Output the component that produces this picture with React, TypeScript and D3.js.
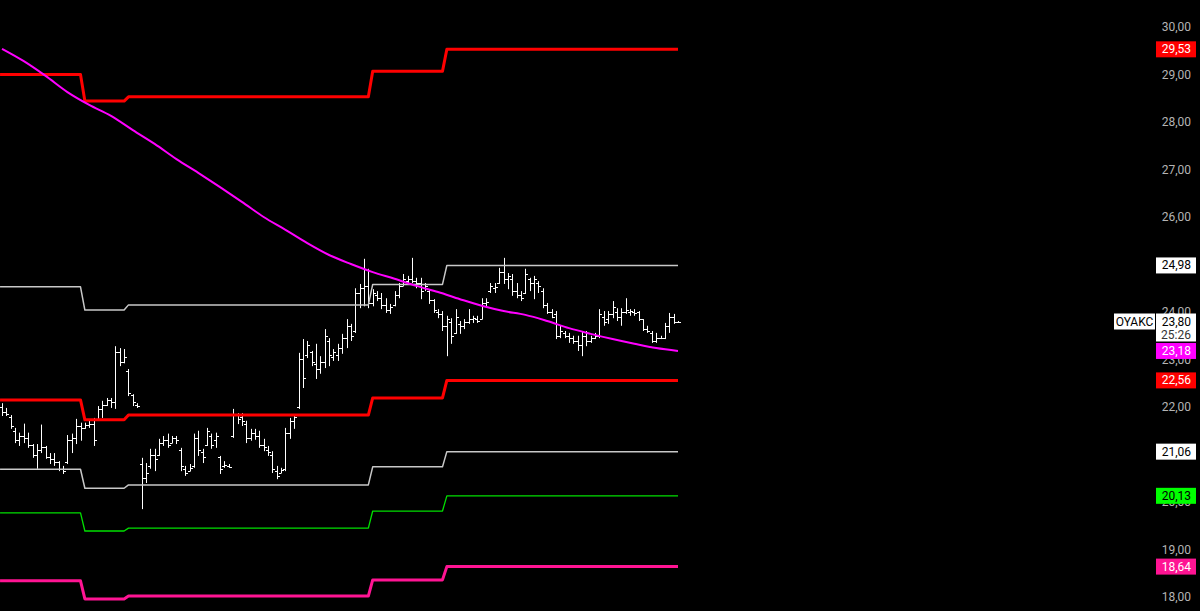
import React from "react";
import * as d3 from "d3";

// [open, high, low, close]
const ohlcBars: [number, number, number, number][] = [
  [22.00, 22.08, 21.81, 21.90], [21.90, 21.98, 21.81, 21.85], [21.80, 21.83, 21.54, 21.60], [21.50, 21.56, 21.24, 21.30],
  [21.30, 21.46, 21.18, 21.40], [21.40, 21.65, 21.24, 21.35], [21.35, 21.46, 21.14, 21.20], [21.20, 21.22, 20.93, 21.00],
  [21.00, 21.22, 20.70, 21.10], [21.10, 21.63, 21.03, 21.15], [21.15, 21.18, 20.91, 20.95], [20.95, 21.03, 20.80, 20.90],
  [20.90, 21.03, 20.76, 20.85], [20.85, 20.86, 20.65, 20.70], [20.70, 20.76, 20.59, 20.65], [20.85, 21.41, 20.80, 21.30],
  [21.30, 21.44, 21.03, 21.35], [21.35, 21.75, 21.22, 21.60], [21.60, 21.67, 21.29, 21.55], [21.55, 21.67, 21.54, 21.62],
  [21.62, 21.71, 21.56, 21.65], [21.65, 21.77, 21.18, 21.30], [21.75, 22.02, 21.71, 21.95], [21.95, 22.13, 21.77, 22.05],
  [22.05, 22.19, 22.02, 22.15], [22.15, 22.19, 21.98, 22.10], [22.10, 23.28, 21.96, 23.15], [23.15, 23.24, 22.86, 22.95],
  [22.95, 23.22, 22.92, 23.05], [22.75, 22.80, 22.23, 22.30], [22.25, 22.27, 22.02, 22.10], [22.05, 22.08, 21.98, 22.02],
  [20.80, 20.93, 19.85, 20.50], [20.50, 20.82, 20.40, 20.60], [20.75, 21.12, 20.70, 21.00], [21.00, 21.12, 20.65, 20.90],
  [21.00, 21.33, 20.97, 21.25], [21.25, 21.39, 21.18, 21.30], [21.30, 21.44, 21.14, 21.20], [21.25, 21.39, 21.24, 21.35],
  [21.35, 21.39, 21.22, 21.30], [21.10, 21.14, 20.65, 20.75], [20.70, 20.76, 20.55, 20.60], [20.66, 20.80, 20.65, 20.72],
  [20.75, 21.44, 20.72, 21.35], [21.35, 21.50, 20.97, 21.10], [21.05, 21.12, 20.82, 20.95], [21.20, 21.56, 21.18, 21.50],
  [21.40, 21.44, 21.12, 21.20], [21.30, 21.46, 21.14, 21.40], [20.95, 20.97, 20.59, 20.70], [20.75, 20.86, 20.72, 20.78],
  [20.76, 20.80, 20.72, 20.74], [21.40, 21.96, 21.35, 21.85], [21.85, 21.87, 21.64, 21.75], [21.80, 21.87, 21.60, 21.70],
  [21.65, 21.71, 21.24, 21.35], [21.35, 21.54, 21.29, 21.45], [21.45, 21.54, 21.31, 21.40], [21.40, 21.50, 21.14, 21.20],
  [21.20, 21.33, 21.07, 21.15], [21.10, 21.18, 20.97, 21.05], [21.00, 21.07, 20.61, 20.70], [20.65, 20.76, 20.48, 20.55],
  [20.62, 20.72, 20.61, 20.68], [20.70, 21.56, 20.65, 21.45], [21.45, 21.77, 21.33, 21.70], [21.70, 21.85, 21.54, 21.80],
  [22.00, 23.14, 21.96, 23.00], [23.00, 23.43, 22.40, 22.60], [23.10, 23.39, 23.03, 23.30], [23.15, 23.18, 22.86, 22.95],
  [22.90, 23.33, 22.59, 22.80], [22.80, 23.07, 22.70, 22.95], [22.95, 23.64, 22.82, 23.50], [23.40, 23.45, 22.86, 23.10],
  [23.05, 23.22, 22.97, 23.15], [23.10, 23.33, 22.97, 23.25], [23.25, 23.54, 23.12, 23.45], [23.45, 23.85, 23.24, 23.70],
  [23.70, 23.75, 23.39, 23.50], [23.60, 24.50, 23.56, 24.40], [24.40, 24.59, 24.08, 24.50], [24.50, 25.12, 24.12, 24.55],
  [24.55, 24.91, 24.08, 24.20], [24.20, 24.48, 24.12, 24.40], [24.35, 24.44, 24.23, 24.30], [24.30, 24.40, 24.06, 24.15],
  [24.15, 24.29, 23.98, 24.05], [24.05, 24.17, 23.96, 24.10], [24.15, 24.44, 24.12, 24.35], [24.35, 24.61, 24.29, 24.55],
  [24.55, 24.80, 24.55, 24.70], [24.65, 24.76, 24.59, 24.70], [24.70, 25.14, 24.61, 24.65], [24.65, 24.72, 24.50, 24.60],
  [24.60, 24.72, 24.27, 24.45], [24.50, 24.61, 24.44, 24.55], [24.45, 24.48, 24.17, 24.25], [24.25, 24.27, 23.98, 24.05],
  [24.00, 24.06, 23.87, 23.95], [23.95, 24.02, 23.60, 23.70], [23.70, 23.92, 23.07, 23.85], [23.80, 23.87, 23.33, 23.50],
  [23.55, 24.06, 23.54, 23.90], [23.75, 23.81, 23.54, 23.70], [23.70, 23.85, 23.64, 23.80], [23.80, 24.06, 23.75, 23.85],
  [23.85, 23.92, 23.77, 23.88], [23.85, 23.92, 23.77, 23.82], [23.85, 24.29, 23.85, 24.20], [24.20, 24.29, 24.12, 24.22],
  [24.45, 24.61, 24.40, 24.55], [24.50, 24.61, 24.40, 24.52], [24.60, 24.93, 24.59, 24.85], [24.85, 25.14, 24.59, 24.70],
  [24.70, 24.82, 24.48, 24.75], [24.70, 24.80, 24.34, 24.45], [24.45, 24.61, 24.29, 24.35], [24.35, 24.44, 24.23, 24.30],
  [24.40, 24.91, 24.38, 24.80], [24.70, 24.72, 24.44, 24.60], [24.60, 24.76, 24.27, 24.70], [24.60, 24.65, 24.40, 24.55],
  [24.45, 24.50, 24.08, 24.15], [24.15, 24.19, 23.96, 24.00], [24.00, 24.06, 23.87, 23.90], [23.95, 24.02, 23.43, 23.50],
  [23.50, 23.71, 23.45, 23.60], [23.55, 23.60, 23.45, 23.50], [23.50, 23.56, 23.35, 23.45], [23.45, 23.50, 23.33, 23.40],
  [23.40, 23.50, 23.18, 23.30], [23.30, 23.60, 23.07, 23.50], [23.50, 23.60, 23.28, 23.40], [23.40, 23.50, 23.35, 23.45],
  [23.45, 23.56, 23.43, 23.50], [23.50, 24.06, 23.45, 23.95], [23.90, 24.02, 23.71, 23.80], [23.85, 24.02, 23.75, 23.95],
  [23.95, 24.23, 23.87, 24.10], [24.00, 24.08, 23.81, 23.90], [23.90, 24.08, 23.71, 24.00], [24.00, 24.29, 23.96, 24.05],
  [24.00, 24.06, 23.92, 24.02], [24.00, 24.06, 23.92, 23.98], [24.00, 24.02, 23.81, 23.85], [23.85, 23.85, 23.60, 23.65],
  [23.65, 23.71, 23.56, 23.60], [23.55, 23.60, 23.35, 23.40], [23.40, 23.56, 23.35, 23.45], [23.45, 23.50, 23.43, 23.46],
  [23.45, 23.77, 23.43, 23.70], [23.70, 23.98, 23.56, 23.90], [23.90, 23.96, 23.75, 23.80], [23.80, 23.81, 23.77, 23.80],
];

// Moving average knots (bar index, value)
const maIndex = [0, 5, 10, 15, 20, 25, 30, 35, 40, 45, 50, 55, 60, 65, 70, 75, 80, 85, 90, 95, 100, 105, 110, 115, 120, 125, 130, 135, 140, 145, 150, 155];
const maValues = [29.54, 29.28, 28.97, 28.63, 28.36, 28.13, 27.83, 27.54, 27.22, 26.93, 26.63, 26.32, 26.0, 25.73, 25.45, 25.2, 25.01, 24.84, 24.7, 24.55, 24.42, 24.27, 24.13, 24.02, 23.94, 23.81, 23.66, 23.54, 23.43, 23.33, 23.24, 23.18];

// Step band segments: [startIdx, endIdx] pairs, and each band's value per segment
const bandBreaks = [-0.45, 18, 19, 28, 29, 84, 85, 101, 102, 155];
const redUpper = [29.0, 28.44, 28.53, 29.07, 29.53];
const whiteUpper = [24.53, 24.04, 24.15, 24.58, 24.98];
const redLower = [22.15, 21.73, 21.83, 22.19, 22.56];
const whiteLower = [20.69, 20.29, 20.36, 20.74, 21.06];
const greenLower = [19.77, 19.39, 19.45, 19.81, 20.13];
const pinkLower = [18.34, 17.96, 18.02, 18.36, 18.64];

// 21,00 and 25,00 sit fully beneath value labels in the reference
const axisTicks = [18, 19, 20, 22, 23, 24, 26, 27, 28, 29, 30];
const lastPrice = 23.8;
const symbolName = "OYAKC";
const countdown = "25:26";
const maLast = 23.18;

const fmt = (v: number) => d3.format(".2f")(v).replace(".", ",");

export default function App() {
  const W = 1200, H = 611;
  const x = d3.scaleLinear().domain([0, ohlcBars.length - 1]).range([2, 678]);
  const y = d3.scaleLinear().domain([30, 18]).range([27, 597]);

  const bandPoints = (vals: number[]) => {
    const pts: [number, number][] = [];
    vals.forEach((v, i) => {
      pts.push([bandBreaks[2 * i], v]);
      pts.push([bandBreaks[2 * i + 1], v]);
    });
    return pts;
  };
  const line = d3.line<[number, number]>().x((d) => x(d[0])).y((d) => y(d[1]));
  const maLine = d3
    .line<number>()
    .x((_, i) => x(maIndex[i]))
    .y((d) => y(d))
    .curve(d3.curveMonotoneX);

  const bands = [
    { vals: redUpper, color: "#ff0000", w: 3 },
    { vals: whiteUpper, color: "#c8c8c8", w: 1.5 },
    { vals: redLower, color: "#ff0000", w: 3 },
    { vals: whiteLower, color: "#c8c8c8", w: 1.5 },
    { vals: greenLower, color: "#00e000", w: 1.3 },
    { vals: pinkLower, color: "#ff1493", w: 3 },
  ];

  const labels = [
    { v: redUpper[4], bg: "#ff0000", fg: "#ffffff" },
    { v: whiteUpper[4], bg: "#ffffff", fg: "#000000" },
    { v: maLast, bg: "#ff00ff", fg: "#ffffff" },
    { v: redLower[4], bg: "#ff0000", fg: "#ffffff" },
    { v: whiteLower[4], bg: "#ffffff", fg: "#000000" },
    { v: greenLower[4], bg: "#00ff00", fg: "#000000" },
    { v: pinkLower[4], bg: "#ff1493", fg: "#ffffff" },
  ];

  const font = "Roboto, 'Noto Sans', sans-serif";
  const lx = 1156, lw = 40, lh = 16, tx = 1191;
  const py = y(lastPrice);

  return (
    <svg
      width={W}
      height={H}
      style={{ position: "fixed", left: 0, top: 0, background: "#000" }}
    >
      <rect x={0} y={0} width={W} height={H} fill="#000" />
      {/* bars */}
      <g stroke="#ffffff" strokeWidth={1}>
        {ohlcBars.map((b, i) => {
          const cx = Math.round(x(i)) + 0.5;
          return (
            <g key={i}>
              <line x1={cx} x2={cx} y1={y(b[1])} y2={y(b[2])} />
              <line x1={cx - 2.5} x2={cx} y1={Math.round(y(b[0])) + 0.5} y2={Math.round(y(b[0])) + 0.5} />
              <line x1={cx} x2={cx + 2.5} y1={Math.round(y(b[3])) + 0.5} y2={Math.round(y(b[3])) + 0.5} />
            </g>
          );
        })}
      </g>
      {/* bands */}
      {bands.map((b, i) => (
        <path key={i} d={line(bandPoints(b.vals)) || ""} fill="none" stroke={b.color} strokeWidth={b.w} strokeLinejoin="round" />
      ))}
      {/* moving average */}
      <path d={maLine(maValues) || ""} fill="none" stroke="#ff00ff" strokeWidth={2} />

      {/* axis tick labels */}
      <g fontFamily={font} fontSize={12} fill="#b4b4b4" textAnchor="end">
        {axisTicks.map((t) => (
          <text key={t} x={tx} y={y(t)} dominantBaseline="central">
            {fmt(t)}
          </text>
        ))}
      </g>

      {/* band value labels */}
      <g fontFamily={font} fontSize={12} textAnchor="end">
        {labels.map((l, i) => (
          <g key={i}>
            <rect x={lx} y={y(l.v) - lh / 2} width={lw} height={lh} fill={l.bg} />
            <text x={tx} y={y(l.v)} dominantBaseline="central" fill={l.fg}>
              {fmt(l.v)}
            </text>
          </g>
        ))}
        {/* last price label */}
        <rect x={1114} y={py - 8} width={41} height={16} fill="#ffffff" />
        <text x={1134.5} y={py} dominantBaseline="central" textAnchor="middle" fill="#000">
          {symbolName}
        </text>
        <rect x={lx} y={py - 8} width={lw} height={28} fill="#ffffff" />
        <text x={tx} y={py} dominantBaseline="central" fill="#000">
          {fmt(lastPrice)}
        </text>
        <text x={tx} y={py + 13} dominantBaseline="central" fill="#333">
          {countdown}
        </text>
      </g>
    </svg>
  );
}
